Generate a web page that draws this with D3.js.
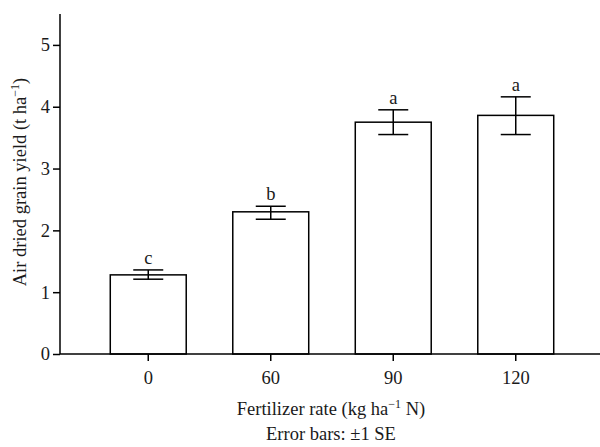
<!DOCTYPE html>
<html>
<head>
<meta charset="utf-8">
<script src="https://cdn.jsdelivr.net/npm/d3@7"></script>
<style>
  body { margin: 0; background: #fff; }
  text { font-family: "Liberation Serif", "Times New Roman", serif; fill: #1a1a1a; }
</style>
</head>
<body>
<div id="chart"></div>
<script>
var rates = ["0", "60", "90", "120"];
var yields = [1.28, 2.30, 3.75, 3.86];
var errLow = [1.21, 2.18, 3.55, 3.55];
var errHigh = [1.36, 2.39, 3.95, 4.16];
var letters = ["c", "b", "a", "a"];
var yTicks = [0, 1, 2, 3, 4, 5];

var width = 600,
    height = 447,
    fs = "18.5px";

var svg = d3.select("#chart").append("svg")
    .attr("width", width)
    .attr("height", height);

var x = d3.scaleBand()
    .domain(rates)
    .range([87, 577])
    .paddingInner(0.38)
    .paddingOuter(0.19);

var y = d3.scaleLinear()
    .domain([0, 5.5])
    .range([354, 14]);

var data = rates.map(function(r, i) {
    return { rate: r, value: yields[i], lo: errLow[i], hi: errHigh[i], letter: letters[i] };
});

// bars
svg.selectAll(".bar")
    .data(data)
  .enter().append("rect")
    .attr("class", "bar")
    .attr("x", function(d) { return x(d.rate); })
    .attr("y", function(d) { return y(d.value); })
    .attr("width", x.bandwidth())
    .attr("height", function(d) { return y(0) - y(d.value); })
    .attr("fill", "#fff")
    .attr("stroke", "#000")
    .attr("stroke-width", 1.5);

// error bars
var capW = 15;
var eb = svg.selectAll(".err")
    .data(data)
  .enter().append("g")
    .attr("class", "err")
    .attr("stroke", "#000")
    .attr("stroke-width", 1.5);

eb.append("line")
    .attr("x1", function(d) { return x(d.rate) + x.bandwidth() / 2; })
    .attr("x2", function(d) { return x(d.rate) + x.bandwidth() / 2; })
    .attr("y1", function(d) { return y(d.lo); })
    .attr("y2", function(d) { return y(d.hi); });

eb.append("line")
    .attr("x1", function(d) { return x(d.rate) + x.bandwidth() / 2 - capW; })
    .attr("x2", function(d) { return x(d.rate) + x.bandwidth() / 2 + capW; })
    .attr("y1", function(d) { return y(d.hi); })
    .attr("y2", function(d) { return y(d.hi); });

eb.append("line")
    .attr("x1", function(d) { return x(d.rate) + x.bandwidth() / 2 - capW; })
    .attr("x2", function(d) { return x(d.rate) + x.bandwidth() / 2 + capW; })
    .attr("y1", function(d) { return y(d.lo); })
    .attr("y2", function(d) { return y(d.lo); });

// significance letters
svg.selectAll(".letter")
    .data(data)
  .enter().append("text")
    .attr("class", "letter")
    .attr("x", function(d) { return x(d.rate) + x.bandwidth() / 2; })
    .attr("y", function(d) { return y(d.hi) - 6; })
    .attr("text-anchor", "middle")
    .style("font-size", fs)
    .text(function(d) { return d.letter; });

// y axis
var yAxis = svg.append("g")
    .attr("transform", "translate(60,0)")
    .call(d3.axisLeft(y).tickValues(yTicks).tickSize(7).tickPadding(3).tickFormat(d3.format("d")));
yAxis.select(".domain").attr("d", "M0," + y(5.5) + "V" + y(0)).attr("stroke-width", 1.5);
yAxis.selectAll(".tick line").attr("stroke-width", 1.5);
yAxis.selectAll(".tick text")
    .style("font-size", fs)
    .style("font-family", "'Liberation Serif', serif");

// x axis
var xAxis = svg.append("g")
    .attr("transform", "translate(0," + y(0) + ")")
    .call(d3.axisBottom(x).tickSize(7).tickPadding(10));
xAxis.select(".domain").attr("d", "M60,0H600").attr("stroke-width", 1.5);
xAxis.selectAll(".tick line").attr("stroke-width", 1.5);
xAxis.selectAll(".tick text")
    .style("font-size", fs)
    .style("font-family", "'Liberation Serif', serif");

// axis titles
var yt = svg.append("text")
    .attr("transform", "translate(26,182) rotate(-90)")
    .attr("text-anchor", "middle")
    .style("font-size", fs);
yt.append("tspan").text("Air dried grain yield (t ha");
yt.append("tspan").attr("dy", -7).style("font-size", "12px").text("\u22121");
yt.append("tspan").attr("dy", 7).text(")");

var xt = svg.append("text")
    .attr("x", 331)
    .attr("y", 415)
    .attr("text-anchor", "middle")
    .style("font-size", fs);
xt.append("tspan").text("Fertilizer rate (kg ha");
xt.append("tspan").attr("dy", -7).style("font-size", "12px").text("\u22121");
xt.append("tspan").attr("dy", 7).text(" N)");

svg.append("text")
    .attr("x", 331)
    .attr("y", 440)
    .attr("text-anchor", "middle")
    .style("font-size", fs)
    .text("Error bars: \u00b11 SE");
</script>
</body>
</html>
